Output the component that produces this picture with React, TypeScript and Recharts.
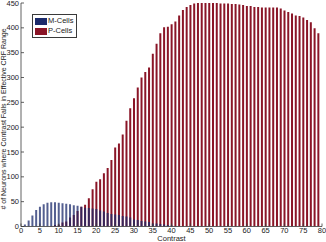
import React from 'react';
import { BarChart, Bar, XAxis, YAxis, Legend } from 'recharts';

const contrast = [
  1, 2, 3, 4, 5, 6, 7, 8, 9, 10, 11, 12, 13, 14, 15, 16, 17, 18, 19, 20,
  21, 22, 23, 24, 25, 26, 27, 28, 29, 30, 31, 32, 33, 34, 35, 36, 37, 38, 39, 40,
  41, 42, 43, 44, 45, 46, 47, 48, 49, 50, 51, 52, 53, 54, 55, 56, 57, 58, 59, 60,
  61, 62, 63, 64, 65, 66, 67, 68, 69, 70, 71, 72, 73, 74, 75, 76, 77, 78, 79,
];

const mCells = [
  4, 12, 22, 33, 40, 45, 48, 49, 49, 48, 47, 46, 45, 43, 42, 40, 38, 37, 36, 35,
  32, 30, 27, 25, 24, 23, 21, 20, 18, 14, 13, 11, 10, 9, 6, 6, 5, 4, 3, 2,
  1, 0, 0, 0, 0, 0, 0, 0, 0, 0, 0, 0, 0, 0, 0, 0, 0, 0, 0, 0,
  0, 0, 0, 0, 0, 0, 0, 0, 0, 0, 0, 0, 0, 0, 0, 0, 0, 0, 0,
];

const pCells = [
  0, 0, 0, 0, 0, 0, 0, 1, 3, 4, 8, 10, 18, 23, 31, 40, 44, 57, 75, 90,
  95, 107, 118, 134, 159, 167, 185, 213, 238, 258, 280, 300, 311, 320, 348, 368, 389, 401, 402, 407,
  413, 425, 436, 442, 446, 449, 450, 450, 450, 450, 450, 450, 449, 449, 449, 448, 448, 447, 446, 444,
  444, 442, 442, 441, 441, 441, 441, 441, 439, 435, 432, 429, 425, 424, 421, 416, 411, 399, 389,
];

const xTicks = [0, 5, 10, 15, 20, 25, 30, 35, 40, 45, 50, 55, 60, 65, 70, 75, 80];
const yTicks = [0, 50, 100, 150, 200, 250, 300, 350, 400, 450];

const M_COLOR = '#1b2a6b';
const P_COLOR = '#8a1527';
const AXIS = '#3a3a3a';
const FONT = '"Liberation Sans", Arial, sans-serif';

const series = [
  { key: 'm', name: 'M-Cells', color: M_COLOR },
  { key: 'p', name: 'P-Cells', color: P_COLOR },
];

const data = contrast.map((c, i) => ({ c, m: mCells[i], p: pCells[i] }));

const W = 326;
const H = 242;
const PLOT_TOP = 3;
const PLOT_BOTTOM = 226.5;
const PLOT_LEFT = 21;
const PLOT_RIGHT = 322;
const TICK = 3;

const BottomTick = (props: any) => {
  const { x, payload } = props;
  return (
    <g>
      <line x1={x} x2={x} y1={PLOT_BOTTOM} y2={PLOT_BOTTOM - TICK} stroke={AXIS} strokeWidth={0.8} />
      <text x={x} y={232.5} textAnchor="middle" fontSize={7.5} fontFamily={FONT} fill="#222">
        {payload.value}
      </text>
    </g>
  );
};

const TopTick = (props: any) => {
  const { x } = props;
  return <line x1={x} x2={x} y1={PLOT_TOP} y2={PLOT_TOP + TICK} stroke={AXIS} strokeWidth={0.8} />;
};

const LeftTick = (props: any) => {
  const { y, payload } = props;
  return (
    <g>
      <line x1={PLOT_LEFT} x2={PLOT_LEFT + TICK} y1={y} y2={y} stroke={AXIS} strokeWidth={0.8} />
      <text x={19} y={y + 2.6} textAnchor="end" fontSize={7.5} fontFamily={FONT} fill="#222">
        {payload.value}
      </text>
    </g>
  );
};

const RightTick = (props: any) => {
  const { y } = props;
  return <line x1={PLOT_RIGHT} x2={PLOT_RIGHT - TICK} y1={y} y2={y} stroke={AXIS} strokeWidth={0.8} />;
};

const renderLegend = () => (
  <div
    style={{
      border: `1px solid ${AXIS}`,
      background: '#fff',
      padding: '1px 3px 1px 2px',
      fontFamily: FONT,
      fontSize: 7.5,
      lineHeight: '9.5px',
      color: '#222',
    }}
  >
    {series.map((s) => (
      <div key={s.key} style={{ display: 'flex', alignItems: 'center', height: 10 }}>
        <span style={{ display: 'inline-block', width: 12, height: 7, background: s.color, marginRight: 1 }} />
        <span>{s.name}</span>
      </div>
    ))}
  </div>
);

export default function App() {
  return (
    <div style={{ position: 'absolute', left: 0, top: 0, width: W, height: H, background: '#fff' }}>
      <BarChart
        width={W}
        height={H}
        data={data}
        margin={{ top: PLOT_TOP, right: W - PLOT_RIGHT, left: 0, bottom: 0 }}
        barSize={2}
        barGap={-2}
      >
        <XAxis
          xAxisId={0}
          dataKey="c"
          type="number"
          domain={[0, 80]}
          ticks={xTicks}
          interval={0}
          height={H - PLOT_BOTTOM}
          axisLine={{ stroke: AXIS, strokeWidth: 0.8 }}
          tickLine={false}
          tick={<BottomTick />}
          allowDataOverflow
        />
        <XAxis
          xAxisId="top"
          orientation="top"
          dataKey="c"
          type="number"
          domain={[0, 80]}
          ticks={xTicks}
          interval={0}
          height={0}
          axisLine={{ stroke: AXIS, strokeWidth: 0.8 }}
          tickLine={false}
          tick={<TopTick />}
        />
        <YAxis
          yAxisId={0}
          domain={[0, 450]}
          ticks={yTicks}
          interval={0}
          width={PLOT_LEFT}
          axisLine={{ stroke: AXIS, strokeWidth: 0.8 }}
          tickLine={false}
          tick={<LeftTick />}
          allowDataOverflow
          label={() => (
            <text
              x={6}
              y={119}
              transform="rotate(-90 6 119)"
              textAnchor="middle"
              fontSize={7}
              fontFamily={FONT}
              fill="#222"
            >
              # of Neurons where Contrast Falls in Effective CRF Range
            </text>
          )}
        />
        <YAxis
          yAxisId="right"
          orientation="right"
          domain={[0, 450]}
          ticks={yTicks}
          interval={0}
          width={0}
          axisLine={{ stroke: AXIS, strokeWidth: 0.8 }}
          tickLine={false}
          tick={<RightTick />}
        />
        <Legend
          content={renderLegend}
          layout="horizontal"
          verticalAlign="middle"
          align="center"
          wrapperStyle={{ position: 'absolute', left: 32, top: 14, width: 'auto', height: 'auto' }}
        />
        <Bar dataKey="p" name="P-Cells" fill={P_COLOR} isAnimationActive={false} legendType="rect" />
        <Bar dataKey="m" name="M-Cells" fill={M_COLOR} fillOpacity={0.75} isAnimationActive={false} legendType="rect" />
        <text x={171.5} y={240.5} textAnchor="middle" fontSize={7.5} fontFamily={FONT} fill="#222">
          Contrast
        </text>
      </BarChart>
    </div>
  );
}
